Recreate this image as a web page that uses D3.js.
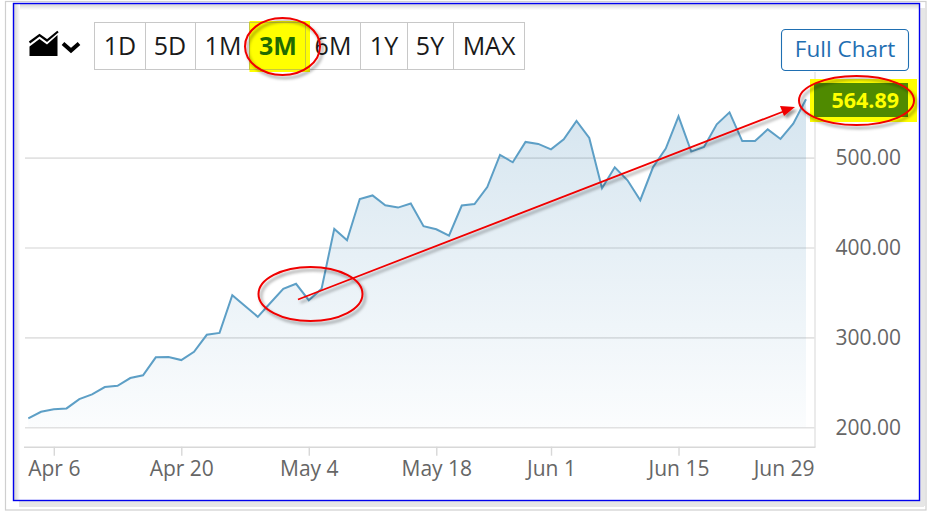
<!DOCTYPE html>
<html><head><meta charset="utf-8">
<script src="https://cdn.jsdelivr.net/npm/d3@7/dist/d3.min.js"></script>
<style>html,body{margin:0;padding:0;background:#fff}svg{display:block}text{font-family:"Open Sans",sans-serif}</style>
</head><body><svg id="c" width="929" height="512"></svg>
<script>
const dates=["Apr 2","Apr 3","Apr 6","Apr 7","Apr 8","Apr 9","Apr 10","Apr 13","Apr 14","Apr 15","Apr 16","Apr 17","Apr 20","Apr 21","Apr 22","Apr 23","Apr 24","Apr 27","Apr 28","Apr 29","Apr 30","May 1","May 4","May 5","May 6","May 7","May 8","May 11","May 12","May 13","May 14","May 15","May 18","May 19","May 20","May 21","May 22","May 26","May 27","May 28","May 29","Jun 1","Jun 2","Jun 3","Jun 4","Jun 5","Jun 8","Jun 9","Jun 10","Jun 11","Jun 12","Jun 15","Jun 16","Jun 17","Jun 18","Jun 19","Jun 22","Jun 23","Jun 24","Jun 25","Jun 26","Jun 29"];
const closes=[210,217.3,220,221,231.4,236.6,244.8,246.2,254.8,257.8,277.8,278.1,274.8,284,302.9,305,347,334.8,322.9,338.5,354,359.6,341.4,354,420.7,408,454,457.9,447,444.4,448.9,423.7,420.3,413.3,446.7,448.4,467.3,502.9,494.8,517.4,515.2,509.2,520.3,540.7,521.8,465.9,489.2,474.8,452.6,489.2,510,545.9,506.7,511.8,537,550.3,518.4,518.4,531.4,520.7,537.8,564.89];
const xTicks=["Apr 6","Apr 20","May 4","May 18","Jun 1","Jun 15","Jun 29"];
const yTicks=[200,300,400,500];
const lastLabel="564.89";
const ranges=["1D","5D","1M","3M","6M","1Y","5Y","MAX"];
const rangeCentres=[120,170,223,278,333,384,430,489];
const rangeDividers=[145.5,195.5,250,306,360.5,407.5,453.5];

const svg=d3.select("#c");
const defs=svg.append("defs");
const grad=defs.append("linearGradient").attr("id","ag").attr("gradientUnits","userSpaceOnUse").attr("x1",0).attr("x2",0).attr("y1",100).attr("y2",427);
grad.append("stop").attr("offset",0).attr("stop-color","#2d7cb0").attr("stop-opacity",.2);
grad.append("stop").attr("offset",1).attr("stop-color","#2d7cb0").attr("stop-opacity",.02);
const sh=defs.append("filter").attr("id","sh").attr("x","-20%").attr("y","-20%").attr("width","140%").attr("height","140%").attr("filterUnits","objectBoundingBox");
sh.append("feDropShadow").attr("dx",2.5).attr("dy",3).attr("stdDeviation",1.8).attr("flood-color","#000").attr("flood-opacity",.4);
const lg=defs.append("linearGradient").attr("id","il").attr("x1",0).attr("x2",1).attr("y1",0).attr("y2",0);
lg.append("stop").attr("offset",0).attr("stop-color","#d4d4d4");lg.append("stop").attr("offset",1).attr("stop-color","#fff");
const tg=defs.append("linearGradient").attr("id","it").attr("x1",0).attr("x2",0).attr("y1",0).attr("y2",1);
tg.append("stop").attr("offset",0).attr("stop-color","#d4d4d4");tg.append("stop").attr("offset",1).attr("stop-color","#fff");

// frames
svg.append("rect").attr("x",5.5).attr("y",1.5).attr("width",920.5).attr("height",508.5).attr("fill","#fff").attr("stroke","#cfcfcf").attr("stroke-width",1.2);
svg.append("rect").attr("x",19).attr("y",500).attr("width",905).attr("height",7).attr("fill","#e6e6e6");
svg.append("rect").attr("x",919).attr("y",8).attr("width",6).attr("height",498).attr("fill","#e6e6e6");
svg.append("rect").attr("x",14).attr("y",4).attr("width",905).attr("height",6).attr("fill","url(#it)");
svg.append("rect").attr("x",14).attr("y",4).attr("width",6).attr("height",496).attr("fill","url(#il)");
svg.append("rect").attr("x",13.5).attr("y",3.5).attr("width",906).attr("height",497).attr("fill","none").attr("stroke","#0000ee").attr("stroke-width",1.4);

const x=d3.scalePoint().domain(dates).range([28.3,806]);
const y=d3.scaleLinear().domain([200,500]).range([427.3,157.6]);

// grid and y labels
const yAxis=d3.axisLeft(y).tickValues(yTicks).tickSize(790).tickFormat(d3.format(".2f")).tickPadding(0);
const gy=svg.append("g").attr("transform","translate(815,0)").call(yAxis);
gy.select(".domain").remove();
gy.selectAll("line").attr("stroke","#e2e2e2").attr("stroke-width",1.6);
gy.selectAll("text").attr("x",20.5).attr("y",0).attr("text-anchor","start").attr("dy","0.32em").attr("fill","#666").style("font-family",'"Open Sans"').style("font-size","21px");

// right rule
svg.append("line").attr("x1",815).attr("x2",815).attr("y1",72).attr("y2",447).attr("stroke","#e6e6e6").attr("stroke-width",1.6);

// x axis
const xAxis=d3.axisBottom(x).tickValues(xTicks).tickSize(9).tickPadding(5).tickSizeOuter(0);
const gx=svg.append("g").attr("transform","translate(0,446.7)").call(xAxis);
gx.select(".domain").attr("d","M24,0.5H815.5").attr("stroke","#d8d8d8").attr("stroke-width",1.6);
gx.selectAll("line").attr("stroke","#d8d8d8").attr("stroke-width",1.4);
gx.selectAll("text").attr("fill","#666").style("font-family",'"Open Sans"').style("font-size","21px").attr("y",14).attr("dy","0.71em");
gx.selectAll(".tick").filter(d=>d==="Jun 29").each(function(){
  const t=d3.select(this);t.select("line").remove();
  t.select("text").attr("text-anchor","end").attr("x",814-x("Jun 29"));
});

// area + line
svg.append("path").attr("d",d3.area().x((d,i)=>x(dates[i])).y0(y(200)).y1(d=>y(d))(closes)).attr("fill","url(#ag)");
svg.append("path").attr("d",d3.line().x((d,i)=>x(dates[i])).y(d=>y(d))(closes)).attr("fill","none").attr("stroke","#5d9fc6").attr("stroke-width",2).attr("stroke-linejoin","miter");

// range buttons
svg.append("rect").attr("x",94.5).attr("y",22.5).attr("width",430).attr("height",47).attr("fill","#fff").attr("stroke","#c8c8c8").attr("stroke-width",1);
svg.selectAll(".dv").data(rangeDividers).join("line").attr("x1",d=>d).attr("x2",d=>d).attr("y1",22.5).attr("y2",69.5).attr("stroke","#c8c8c8");
svg.append("rect").attr("x",249.5).attr("y",21).attr("width",60.5).attr("height",51).attr("fill","#ffff00");
svg.append("rect").attr("x",249.5).attr("y",22.5).attr("width",56).attr("height",47).attr("fill","none").attr("stroke","#c9c93a").attr("stroke-width",1);
svg.selectAll(".rg").data(ranges).join("text").attr("x",(d,i)=>rangeCentres[i]).attr("y",55).attr("text-anchor","middle")
  .attr("fill",d=>d==="3M"?"#1f6b00":"#1a1a1a").attr("font-weight",d=>d==="3M"?700:400).attr("font-size",25).text(d=>d);

// chart type icon
svg.append("path").attr("d","M29.5,56V46.5L39.5,39L47,44.5L57.5,35V56Z").attr("fill","#000");
svg.append("path").attr("d","M29.5,42.5L39.5,35L47,40.5L58,31.5").attr("fill","none").attr("stroke","#000").attr("stroke-width",2.2);
svg.append("path").attr("d","M63,43.5L71,50.5L79,43.5").attr("fill","none").attr("stroke","#000").attr("stroke-width",4);

// full chart
svg.append("rect").attr("x",781.5).attr("y",29.5).attr("width",127).attr("height",41).attr("rx",4).attr("fill","#fff").attr("stroke","#1f6fb2").attr("stroke-width",1.1);
svg.append("text").attr("x",845).attr("y",57).attr("text-anchor","middle").attr("fill","#1f6fb2").attr("font-size",22.5).text("Full Chart");

// last value
svg.append("rect").attr("x",810).attr("y",79).attr("width",107).attr("height",43).attr("fill","#ffff00");
svg.append("rect").attr("x",814).attr("y",83).attr("width",94).attr("height",34).attr("fill","#4f8a00");
svg.append("text").attr("x",899).attr("y",107.5).attr("text-anchor","end").attr("fill","#ffff00").attr("font-weight",700).attr("font-size",21.5).text(lastLabel);

// annotations
const red="#f00000";
const ann=svg.append("g").attr("filter","url(#sh)");
[[282.5,46.5,37.5,28.5],[310.5,294,52,27],[856.5,100.5,57.5,24.5]].forEach(e=>{
  ann.append("ellipse").attr("cx",e[0]).attr("cy",e[1]).attr("rx",e[2]).attr("ry",e[3]).attr("fill","none").attr("stroke",red).attr("stroke-width",2);
});
ann.append("line").attr("x1",298).attr("y1",299.5).attr("x2",786).attr("y2",110.5).attr("stroke",red).attr("stroke-width",1.8);
ann.append("path").attr("d","M795,107L784,116L780,106Z").attr("fill",red);
</script></body></html>
